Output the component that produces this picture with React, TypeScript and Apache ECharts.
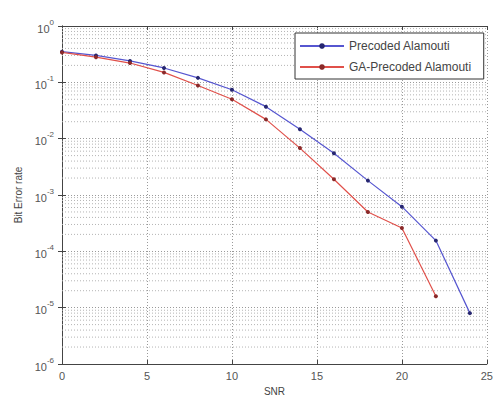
import React, { useEffect, useRef } from "react";
import * as echarts from "echarts";

const snrBlue = [0, 2, 4, 6, 8, 10, 12, 14, 16, 18, 20, 22, 24];
const berBlue = [0.35, 0.3, 0.24, 0.18, 0.12, 0.074, 0.037, 0.0147, 0.0055, 0.0018, 0.00062, 0.000155, 0.000008];
const snrRed = [0, 2, 4, 6, 8, 10, 12, 14, 16, 18, 20, 22];
const berRed = [0.34, 0.28, 0.22, 0.15, 0.088, 0.05, 0.022, 0.0068, 0.0019, 0.0005, 0.00026, 0.000016];
const decades = [-6, -5, -4, -3, -2, -1];
const minorMultipliers = [2, 3, 4, 5, 6, 7, 8, 9];
const seriesNames = ["Precoded Alamouti", "GA-Precoded Alamouti"];

export default function App() {
  const ref = useRef<HTMLDivElement>(null);
  useEffect(() => {
    if (!ref.current) return;
    const chart = echarts.init(ref.current, null, { renderer: "svg" });
    const minorValues: number[][] = [];
    decades.forEach((d) =>
      minorMultipliers.forEach((m) => minorValues.push([0, m * Math.pow(10, d)]))
    );
    const font = "Liberation Sans, Arial, sans-serif";
    const gridDot = { color: "#9a9a9a", type: [1, 2] as any, width: 1 };
    chart.setOption({
      animation: false,
      backgroundColor: "#fff",
      textStyle: { fontFamily: font },
      grid: { left: 62, top: 26, width: 430, height: 340, containLabel: false },
      legend: {
        orient: "vertical",
        left: 295,
        top: 33,
        itemWidth: 44,
        itemHeight: 7,
        itemGap: 9,
        padding: [7, 12, 6, 4],
        borderColor: "#333",
        borderWidth: 1,
        backgroundColor: "#fff",
        textStyle: { fontFamily: font, fontSize: 12, color: "#444" },
        data: seriesNames,
      },
      xAxis: [
        {
          type: "value",
          min: 0,
          max: 25,
          interval: 5,
          name: "SNR",
          nameLocation: "middle",
          nameGap: 22,
          nameTextStyle: { fontFamily: font, fontSize: 10, color: "#444" },
          axisLine: { show: true, onZero: false, lineStyle: { color: "#444" } },
          axisTick: { show: true, inside: true, length: 4, lineStyle: { color: "#444" } },
          axisLabel: { fontFamily: font, fontSize: 11, color: "#555", margin: 6 },
          splitLine: { show: true, lineStyle: gridDot },
        },
        {
          type: "value",
          position: "top",
          min: 0,
          max: 25,
          interval: 5,
          axisLine: { show: true, lineStyle: { color: "#444" } },
          axisTick: { show: true, inside: true, length: 4, lineStyle: { color: "#444" } },
          axisLabel: { show: false },
          splitLine: { show: false },
        },
      ],
      yAxis: [
        {
          type: "log",
          min: 1e-6,
          max: 1,
          logBase: 10,
          name: "Bit Error rate",
          nameLocation: "middle",
          nameGap: 38,
          nameTextStyle: { fontFamily: font, fontSize: 10, color: "#444" },
          axisLine: { show: true, onZero: false, lineStyle: { color: "#444" } },
          axisTick: { show: true, inside: true, length: 4, lineStyle: { color: "#444" } },
          axisLabel: {
            margin: 8,
            formatter: (v: number) => `{b|10}{e|${Math.round(Math.log10(v))}}`,
            rich: {
              b: { fontFamily: font, fontSize: 11, color: "#555", verticalAlign: "bottom" },
              e: { fontFamily: font, fontSize: 8, color: "#555", verticalAlign: "top", padding: [0, 0, 8, 0] },
            },
          },
          splitLine: { show: true, lineStyle: gridDot },
        },
        {
          type: "log",
          position: "right",
          min: 1e-6,
          max: 1,
          logBase: 10,
          axisLine: { show: true, lineStyle: { color: "#444" } },
          axisTick: { show: true, inside: true, length: 4, lineStyle: { color: "#444" } },
          axisLabel: { show: false },
          splitLine: { show: false },
        },
      ],
      series: [
        {
          name: "grid-minor",
          type: "custom",
          silent: true,
          z: 1,
          data: minorValues,
          renderItem: (params: any, api: any) => {
            const y = api.value(1);
            const p1 = api.coord([0, y]);
            const p2 = api.coord([25, y]);
            return {
              type: "line",
              shape: { x1: p1[0], y1: p1[1], x2: p2[0], y2: p2[1] },
              style: { stroke: "#b4b4b4", lineWidth: 1, lineDash: [1, 2] },
            };
          },
        },
        {
          name: seriesNames[0],
          type: "line",
          data: snrBlue.map((x, i) => [x, berBlue[i]]),
          lineStyle: { color: "#5656d0", width: 1.2 },
          itemStyle: { color: "#262670" },
          symbol: "circle",
          symbolSize: 4,
          z: 3,
        },
        {
          name: seriesNames[1],
          type: "line",
          data: snrRed.map((x, i) => [x, berRed[i]]),
          lineStyle: { color: "#e0504a", width: 1.2 },
          itemStyle: { color: "#8a2a2a" },
          symbol: "circle",
          symbolSize: 4,
          z: 3,
        },
      ],
    });
    return () => chart.dispose();
  }, []);
  return (
    <div
      ref={ref}
      style={{ position: "absolute", left: 0, top: 0, width: 496, height: 401 }}
    />
  );
}
